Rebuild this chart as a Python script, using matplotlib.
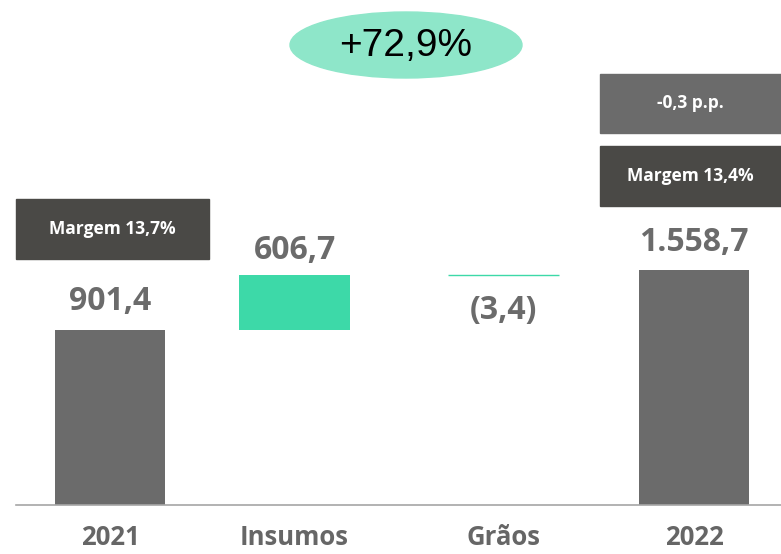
import matplotlib.pyplot as plt
from matplotlib.patches import Rectangle, Ellipse

# Data
categories = ['2021', 'Insumos', 'Grãos', '2022']
values = [901.4, 606.7, -3.4, 1558.7]
labels = ['901,4', '606,7', '(3,4)', '1.558,7']
margins = ['Margem 13,7%', 'Margem 13,4%']
margin_delta = '-0,3 p.p.'
growth = '+72,9%'

gray = '#6b6b6b'
dark = '#4a4946'
green = '#3dd9a8'
text_gray = '#6b6b6b'

fig = plt.figure(figsize=(7.81, 5.54), dpi=100)
ax = fig.add_axes([16 / 781, 49 / 554, 1 - 16 / 781, 505 / 554])

ymin = -1015
x = [0, 0.948, 2.021, 3]  # slightly uneven spacing as in the original
w = 0.57

# totals
ax.bar(x[0], values[0] - ymin, w, bottom=ymin, color=gray)
ax.bar(x[3], values[3] - ymin, w, bottom=ymin, color=gray)
# deltas
base = values[0]
ax.bar(x[1], values[1], w, bottom=base, color=green)
base += values[1]
ax.bar(x[2], values[2], w, bottom=base, color=green, edgecolor=green, linewidth=1)

ax.set_xlim(-0.483, 3.447)
ax.set_ylim(ymin, ymin + 5531)

font = 'Open Sans'
lab_y = [values[0] + 307, values[0] + values[1] + 260, base + values[2] - 384, values[3] + 300]
for i in range(len(categories)):
    ax.text(x[i], lab_y[i], labels[i], ha='center', va='center', fontsize=23,
            fontweight='bold', color=text_gray, family=font)

ax.set_xticks(x)
ax.set_xticklabels(categories, fontsize=18.5, fontweight='bold', color='#666666', family=font)
ax.tick_params(axis='x', length=0, pad=14)
ax.set_yticks([])
for s in ['top', 'left', 'right']:
    ax.spines[s].set_visible(False)
ax.spines['bottom'].set_color('#a6a6a6')
ax.spines['bottom'].set_linewidth(1.2)


def box(x0, y0, x1, y1, color, text):
    # pixel coords from top-left
    fig.add_artist(Rectangle((x0 / 781, 1 - y1 / 554), (x1 - x0) / 781, (y1 - y0) / 554,
                             transform=fig.transFigure, color=color))
    fig.text((x0 + x1) / 2 / 781, 1 - (y0 + y1) / 2 / 554, text, ha='center', va='center',
             color='white', fontsize=12.5, fontweight='bold', family=font)


box(16, 199, 209, 259, dark, margins[0])
box(600, 146, 781, 206, dark, margins[1])
box(600, 74, 781, 133, gray, margin_delta)

fig.add_artist(Ellipse((406 / 781, 1 - 45 / 554), 232 / 781, 66 / 554,
                       transform=fig.transFigure, color='#8ee6c9'))
fig.text(406 / 781, 1 - 46 / 554, growth, ha='center', va='center', fontsize=28,
         color='black', family=['Liberation Sans Narrow', 'Liberation Sans'])

fig.savefig('out.png', dpi=100)
